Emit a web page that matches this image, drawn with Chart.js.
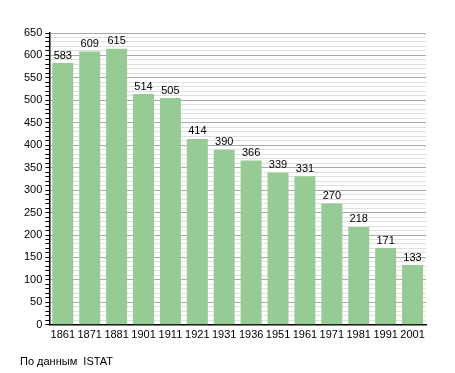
<!DOCTYPE html>
<html>
<head>
<meta charset="utf-8">
<script src="https://cdn.jsdelivr.net/npm/chart.js@4/dist/chart.umd.min.js"></script>
<style>
  html, body { margin: 0; padding: 0; background: #fff; }
  #wrap { position: relative; width: 455px; height: 373px; }
  #note { position: absolute; left: 20px; top: 355px; font: 11px "Liberation Sans", Arial, sans-serif; color: #000; }
</style>
</head>
<body>
<div id="wrap">
  <canvas id="chart" width="455" height="373"></canvas>
  <div id="note">По данным&nbsp; ISTAT</div>
</div>
<script>
const years = ["1861", "1871", "1881", "1901", "1911", "1921", "1931", "1936", "1951", "1961", "1971", "1981", "1991", "2001"];
const population = [583, 609, 615, 514, 505, 414, 390, 366, 339, 331, 270, 218, 171, 133];
const yMax = 650;

// value labels above each bar
const barLabels = {
  id: "barLabels",
  afterDatasetsDraw(chart) {
    const ctx = chart.ctx;
    const meta = chart.getDatasetMeta(0);
    ctx.save();
    ctx.font = '11px "Liberation Sans", Arial, sans-serif';
    ctx.fillStyle = "#000";
    ctx.textAlign = "center";
    ctx.textBaseline = "bottom";
    meta.data.forEach((bar, i) => {
      ctx.fillText(population[i], bar.x, bar.y - 2);
    });
    ctx.restore();
  }
};

new Chart(document.getElementById("chart").getContext("2d"), {
  type: "bar",
  data: {
    labels: years,
    datasets: [{
      data: population,
      backgroundColor: "#96cb96",
      borderWidth: 0,
      barPercentage: 0.78,
      categoryPercentage: 1.0
    }]
  },
  options: {
    responsive: false,
    animation: false,
    layout: { padding: { top: 33, right: 29, left: 21, bottom: 27 } },
    plugins: { legend: { display: false }, tooltip: { enabled: false } },
    scales: {
      x: {
        grid: { display: false, drawTicks: false },
        border: { color: "#000", width: 1.5 },
        ticks: { color: "#000", font: { size: 11, family: '"Liberation Sans", Arial, sans-serif' }, padding: 4, maxRotation: 0, autoSkip: false }
      },
      y: {
        min: 0,
        max: yMax,
        border: { color: "#000", width: 1.5 },
        grid: {
          color: (c) => (c.tick && c.tick.value % 50 === 0 ? "#a8a8a8" : "#e0e0e0"),
          tickColor: "#000",
          tickLength: 4,
          lineWidth: 1
        },
        ticks: {
          stepSize: 10,
          autoSkip: false,
          color: "#000",
          padding: 3,
          font: { size: 11, family: '"Liberation Sans", Arial, sans-serif' },
          callback: (v) => (v % 50 === 0 ? v : "")
        }
      }
    }
  },
  plugins: [barLabels]
});
</script>
</body>
</html>
